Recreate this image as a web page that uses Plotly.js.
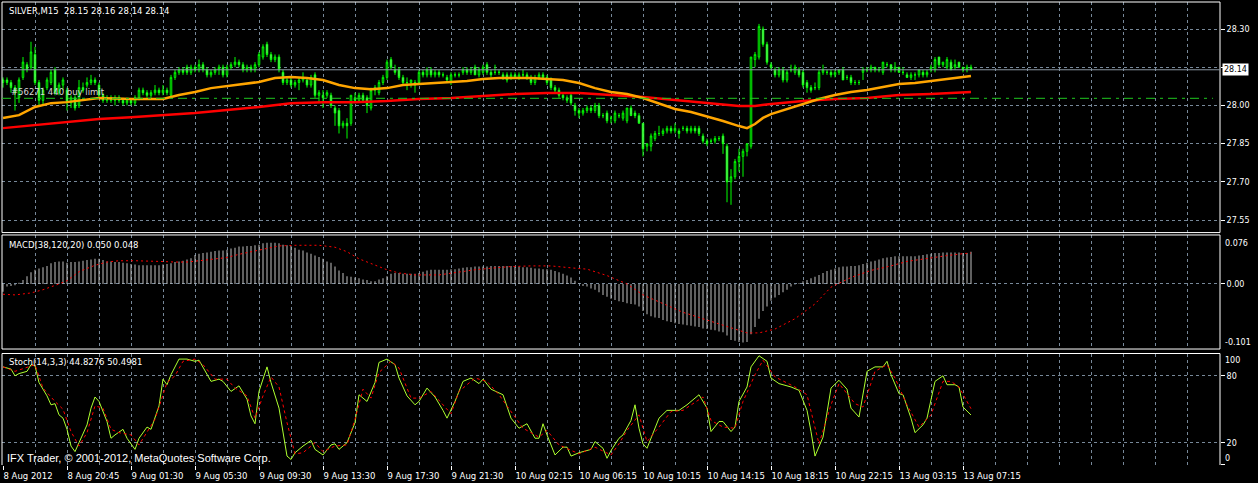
<!DOCTYPE html>
<html>
<head>
<meta charset="utf-8">
<script src="https://cdn.plot.ly/plotly-3.0.1.min.js"></script>
<style>
  html, body { margin: 0; padding: 0; background: #000; }
  #chart { width: 1258px; height: 483px; }
</style>
</head>
<body>
<div id="chart"></div>
<script>
// SILVER M15 candles, one entry per bar (bar 0 = 8 Aug 2012 16:45)
const open = [
  28.09,28.10,28.09,28.07,28.03,28.11,28.16,28.15,28.20,28.09,
  28.02,28.07,28.09,28.14,28.05,28.08,28.06,28.01,28.03,28.00,
  28.07,28.08,28.09,28.10,28.08,28.04,28.02,28.03,28.02,28.03,
  28.02,28.01,28.02,28.01,28.03,28.06,28.05,28.04,28.05,28.06,
  28.05,28.06,28.04,28.11,28.13,28.14,28.15,28.13,28.15,28.14,
  28.16,28.14,28.12,28.13,28.14,28.15,28.12,28.15,28.16,28.17,
  28.16,28.14,28.15,28.14,28.16,28.19,28.24,28.20,28.18,28.19,
  28.13,28.09,28.10,28.08,28.09,28.10,28.10,28.08,28.12,28.04,
  28.04,28.04,28.04,27.99,27.98,27.92,27.93,27.93,28.03,28.02,
  28.04,28.03,27.99,28.06,28.05,28.09,28.11,28.18,28.14,28.14,
  28.11,28.09,28.09,28.09,28.09,28.13,28.12,28.14,28.12,28.13,
  28.12,28.11,28.09,28.12,28.12,28.13,28.14,28.13,28.15,28.12,
  28.13,28.16,28.13,28.13,28.13,28.12,28.12,28.11,28.12,28.11,
  28.12,28.12,28.11,28.09,28.11,28.12,28.11,28.10,28.07,28.06,
  28.04,28.03,28.04,28.00,27.98,27.97,27.98,27.99,27.98,28.00,
  27.96,27.97,27.95,27.94,27.96,27.95,27.94,27.99,27.97,27.96,
  27.93,27.84,27.84,27.87,27.89,27.89,27.90,27.91,27.90,27.90,
  27.91,27.91,27.90,27.91,27.91,27.88,27.86,27.86,27.86,27.87,
  27.88,27.84,27.70,27.72,27.78,27.80,27.82,27.84,28.18,28.19,
  28.30,28.24,28.16,28.14,28.12,28.14,28.10,28.14,28.13,28.14,
  28.13,28.09,28.07,28.07,28.07,28.13,28.13,28.13,28.12,28.13,
  28.14,28.11,28.11,28.09,28.09,28.13,28.14,28.14,28.15,28.14,
  28.13,28.16,28.16,28.14,28.15,28.13,28.12,28.11,28.12,28.12,
  28.13,28.12,28.14,28.14,28.19,28.16,28.15,28.17,28.15,28.17,
  28.15,28.14,28.15
];
const high = [
  28.11,28.11,28.10,28.08,28.11,28.19,28.17,28.25,28.23,28.10,
  28.07,28.11,28.14,28.15,28.09,28.11,28.07,28.04,28.04,28.10,
  28.09,28.11,28.12,28.11,28.09,28.05,28.04,28.04,28.04,28.04,
  28.03,28.03,28.03,28.04,28.07,28.07,28.06,28.06,28.08,28.07,
  28.08,28.07,28.12,28.14,28.15,28.15,28.16,28.16,28.16,28.18,
  28.17,28.15,28.14,28.15,28.16,28.16,28.16,28.17,28.19,28.18,
  28.17,28.16,28.16,28.17,28.21,28.24,28.25,28.21,28.20,28.20,
  28.14,28.11,28.11,28.10,28.11,28.13,28.11,28.12,28.13,28.06,
  28.06,28.06,28.05,28.00,27.99,27.94,27.95,28.04,28.05,28.05,
  28.05,28.04,28.07,28.08,28.10,28.12,28.18,28.19,28.16,28.15,
  28.12,28.11,28.10,28.10,28.14,28.14,28.15,28.15,28.14,28.14,
  28.13,28.12,28.13,28.13,28.13,28.15,28.15,28.15,28.16,28.15,
  28.16,28.17,28.14,28.16,28.14,28.13,28.13,28.13,28.13,28.13,
  28.14,28.13,28.12,28.12,28.13,28.13,28.12,28.11,28.08,28.07,
  28.05,28.04,28.05,28.01,27.99,27.99,28.00,28.00,28.01,28.01,
  27.97,27.98,27.96,27.98,27.97,27.98,27.99,28.00,27.98,27.97,
  27.93,27.85,27.89,27.90,27.92,27.91,27.92,27.92,27.93,27.91,
  27.92,27.92,27.92,27.92,27.92,27.89,27.87,27.87,27.88,27.88,
  27.89,27.85,27.75,27.79,27.83,27.83,27.85,28.19,28.21,28.32,
  28.31,28.25,28.17,28.15,28.15,28.15,28.14,28.16,28.16,28.15,
  28.14,28.10,28.08,28.09,28.14,28.16,28.14,28.14,28.14,28.14,
  28.15,28.12,28.12,28.10,28.10,28.15,28.15,28.16,28.15,28.15,
  28.17,28.17,28.16,28.17,28.15,28.15,28.13,28.13,28.13,28.14,
  28.14,28.14,28.16,28.19,28.19,28.17,28.19,28.18,28.18,28.17,
  28.15,28.16,28.16
];
const low = [
  28.07,28.08,28.05,27.98,28.01,28.10,28.13,28.14,28.08,28.00,
  28.00,28.06,28.08,28.04,28.04,28.06,27.98,27.99,27.98,27.99,
  28.05,28.07,28.08,28.08,28.03,28.01,28.01,28.01,28.00,28.01,
  28.00,28.00,28.00,28.00,28.02,28.04,28.03,28.03,28.04,28.04,
  28.04,28.04,28.03,28.10,28.12,28.12,28.12,28.12,28.13,28.13,
  28.13,28.11,28.11,28.12,28.12,28.11,28.11,28.14,28.15,28.15,
  28.13,28.13,28.13,28.13,28.15,28.18,28.19,28.17,28.17,28.13,
  28.08,28.08,28.07,28.07,28.06,28.09,28.07,28.07,28.03,28.01,
  27.99,28.03,27.99,27.92,27.89,27.91,27.87,27.92,28.01,28.01,
  28.01,27.97,27.98,28.04,28.04,28.08,28.10,28.14,28.12,28.10,
  28.08,28.06,28.07,28.05,28.08,28.11,28.11,28.11,28.11,28.11,
  28.11,28.09,28.08,28.11,28.11,28.12,28.12,28.12,28.12,28.11,
  28.12,28.12,28.11,28.12,28.12,28.10,28.09,28.10,28.11,28.10,
  28.11,28.10,28.08,28.08,28.10,28.10,28.08,28.06,28.05,28.03,
  28.02,28.01,28.00,27.96,27.95,27.96,27.97,27.97,27.97,27.95,
  27.95,27.93,27.93,27.93,27.95,27.94,27.93,27.96,27.95,27.93,
  27.80,27.82,27.82,27.86,27.88,27.88,27.89,27.89,27.89,27.87,
  27.90,27.89,27.89,27.89,27.88,27.85,27.84,27.85,27.85,27.86,
  27.81,27.62,27.61,27.71,27.74,27.72,27.80,27.83,28.15,28.18,
  28.23,28.16,28.14,28.11,28.11,28.09,28.09,28.13,28.12,28.11,
  28.07,28.05,28.05,28.06,28.06,28.12,28.12,28.11,28.11,28.12,
  28.10,28.10,28.08,28.08,28.08,28.10,28.13,28.13,28.13,28.13,
  28.12,28.15,28.13,28.13,28.13,28.12,28.11,28.10,28.10,28.11,
  28.11,28.11,28.13,28.13,28.15,28.15,28.14,28.14,28.14,28.15,
  28.13,28.13,28.14
];
const close = [
  28.10,28.09,28.07,28.05,28.10,28.17,28.14,28.21,28.09,28.02,
  28.06,28.10,28.13,28.05,28.08,28.10,28.01,28.03,27.99,28.07,
  28.06,28.09,28.10,28.09,28.04,28.02,28.03,28.02,28.03,28.02,
  28.01,28.02,28.01,28.03,28.06,28.05,28.04,28.05,28.06,28.05,
  28.06,28.05,28.11,28.13,28.14,28.13,28.13,28.15,28.14,28.16,
  28.14,28.12,28.13,28.14,28.15,28.12,28.15,28.16,28.17,28.16,
  28.14,28.15,28.14,28.16,28.20,28.23,28.20,28.18,28.19,28.14,
  28.09,28.10,28.08,28.09,28.10,28.11,28.08,28.11,28.04,28.05,
  28.03,28.05,28.00,27.97,27.92,27.93,27.92,28.04,28.02,28.04,
  28.02,28.00,28.06,28.07,28.09,28.11,28.17,28.15,28.13,28.11,
  28.09,28.09,28.10,28.08,28.13,28.12,28.14,28.12,28.13,28.12,
  28.12,28.10,28.12,28.12,28.12,28.14,28.13,28.14,28.12,28.14,
  28.15,28.13,28.12,28.13,28.13,28.11,28.10,28.12,28.11,28.12,
  28.12,28.11,28.09,28.11,28.12,28.11,28.09,28.07,28.06,28.04,
  28.03,28.02,28.01,27.98,27.97,27.98,27.99,27.98,28.00,27.96,
  27.96,27.94,27.95,27.97,27.96,27.97,27.99,27.96,27.96,27.93,
  27.83,27.85,27.88,27.89,27.89,27.90,27.91,27.90,27.91,27.89,
  27.91,27.90,27.91,27.90,27.89,27.86,27.85,27.86,27.87,27.87,
  27.85,27.70,27.72,27.78,27.80,27.82,27.85,28.19,28.20,28.31,
  28.24,28.17,28.15,28.12,28.14,28.10,28.13,28.14,28.15,28.12,
  28.08,28.07,28.06,28.07,28.13,28.14,28.13,28.12,28.13,28.14,
  28.10,28.11,28.09,28.09,28.09,28.14,28.14,28.15,28.14,28.14,
  28.17,28.16,28.14,28.15,28.13,28.13,28.11,28.12,28.12,28.14,
  28.12,28.13,28.15,28.18,28.16,28.17,28.18,28.14,28.16,28.15,
  28.14,28.15,28.14
];

// moving averages (orange = fast, red = slow)
const fastBars = [0,4,8,12,16,20,24,32,40,44,48,52,56,60,64,68,72,76,80,84,88,92,96,100,104,108,112,116,120,124,128,132,136,140,144,148,152,156,160,164,168,172,176,180,184,186,188,190,192,196,200,204,208,212,216,220,224,228,232,236,240,242];
const fastMa = [27.951,27.962,27.994,28.009,28.013,28.021,28.029,28.025,28.025,28.041,28.053,28.068,28.076,28.084,28.092,28.108,28.112,28.108,28.100,28.080,28.068,28.064,28.068,28.080,28.084,28.088,28.092,28.096,28.104,28.108,28.108,28.108,28.104,28.100,28.088,28.068,28.053,28.045,28.029,28.006,27.986,27.974,27.958,27.939,27.919,27.911,27.927,27.951,27.966,27.986,28.006,28.025,28.041,28.053,28.061,28.072,28.084,28.088,28.096,28.104,28.112,28.116];
const slowBars = [0,8,16,24,32,40,48,56,64,72,80,88,96,104,112,120,128,136,144,152,160,168,176,184,188,192,200,208,216,224,232,242];
const slowMa = [27.911,27.923,27.935,27.947,27.954,27.962,27.970,27.982,27.994,28.009,28.013,28.013,28.017,28.025,28.029,28.037,28.045,28.049,28.049,28.041,28.033,28.021,28.009,27.998,27.998,28.006,28.017,28.025,28.029,28.041,28.045,28.053];

// MACD(38,120,20) histogram, one per bar, and its signal line
const macdHist = [
  -0.012,-0.004,-0.003,-0.002,0.002,0.006,0.012,0.018,0.022,0.024,
  0.026,0.028,0.032,0.034,0.035,0.035,0.033,0.034,0.034,0.035,
  0.036,0.037,0.038,0.039,0.039,0.037,0.035,0.035,0.034,0.034,
  0.033,0.032,0.031,0.030,0.029,0.029,0.029,0.029,0.029,0.029,
  0.030,0.031,0.032,0.034,0.035,0.036,0.038,0.040,0.045,0.047,
  0.048,0.049,0.050,0.051,0.052,0.052,0.053,0.055,0.056,0.058,
  0.058,0.059,0.059,0.060,0.061,0.063,0.064,0.064,0.064,0.063,
  0.061,0.060,0.059,0.056,0.053,0.052,0.049,0.047,0.044,0.042,
  0.039,0.035,0.033,0.027,0.021,0.017,0.012,0.011,0.010,0.009,
  0.007,0.006,0.004,0.004,0.007,0.009,0.012,0.016,0.017,0.017,
  0.016,0.016,0.016,0.016,0.017,0.019,0.021,0.022,0.022,0.022,
  0.022,0.022,0.023,0.023,0.024,0.025,0.026,0.026,0.027,0.027,
  0.027,0.027,0.028,0.028,0.028,0.028,0.028,0.028,0.027,0.027,
  0.026,0.026,0.025,0.024,0.024,0.023,0.023,0.022,0.020,0.018,
  0.016,0.013,0.010,0.005,0.001,-0.003,-0.004,-0.007,-0.009,-0.013,
  -0.017,-0.020,-0.023,-0.025,-0.027,-0.028,-0.030,-0.031,-0.032,-0.035,
  -0.042,-0.047,-0.050,-0.052,-0.053,-0.056,-0.058,-0.059,-0.061,-0.062,
  -0.063,-0.064,-0.065,-0.066,-0.067,-0.069,-0.070,-0.071,-0.072,-0.074,
  -0.075,-0.080,-0.087,-0.088,-0.090,-0.091,-0.090,-0.078,-0.067,-0.054,
  -0.042,-0.035,-0.026,-0.021,-0.017,-0.013,-0.009,-0.004,-0.001,0.001,
  0.004,0.006,0.009,0.011,0.014,0.017,0.020,0.022,0.024,0.026,
  0.027,0.027,0.028,0.028,0.029,0.031,0.033,0.035,0.036,0.038,
  0.040,0.041,0.042,0.043,0.043,0.043,0.043,0.043,0.043,0.044,
  0.045,0.046,0.047,0.048,0.048,0.049,0.049,0.049,0.049,0.049,
  0.048,0.048,0.050
];
const macdSigBars = [0,3,7,10,14,16,19,23,26,29,33,36,39,43,46,49,53,56,59,63,66,69,73,76,79,83,86,89,93,96,99,103,109,113,118,123,127,132,137,142,146,151,156,160,165,170,175,179,184,186,189,193,198,203,207,212,217,222,226,231,236,240,242];
const macdSignal = [-0.016,-0.017,-0.014,-0.009,0.000,0.005,0.019,0.029,0.034,0.036,0.036,0.036,0.035,0.034,0.034,0.036,0.039,0.041,0.046,0.051,0.055,0.059,0.060,0.060,0.060,0.057,0.050,0.039,0.029,0.022,0.017,0.014,0.014,0.018,0.022,0.025,0.027,0.028,0.028,0.025,0.023,0.013,0.000,-0.017,-0.031,-0.044,-0.054,-0.062,-0.072,-0.076,-0.076,-0.070,-0.054,-0.031,-0.005,0.010,0.021,0.028,0.035,0.040,0.044,0.047,0.048];

// Stochastic(14,3,3)
const stochBars = [0,2,3,4,6,7,8,9,11,12,13,14,15,16,17,18,19,21,22,23,24,26,27,28,30,31,33,34,36,37,39,40,41,42,44,46,48,49,52,54,55,57,59,61,62,63,64,66,67,69,71,72,73,75,77,78,80,82,83,84,86,88,89,91,93,94,96,98,99,101,103,104,106,108,110,111,113,115,117,119,120,122,125,127,129,131,133,134,135,136,138,140,141,142,144,146,147,148,150,151,152,154,155,157,158,159,160,161,162,164,166,169,171,174,176,177,179,180,182,183,184,186,187,189,191,192,194,197,199,201,202,203,205,207,209,211,212,214,216,218,220,221,222,224,225,227,228,230,231,233,235,236,238,239,240,242];
const stochMain = [88,86,80,82,84,90,89,74,62,54,55,45,42,32,17,12,20,36,51,61,57,39,24,27,32,24,14,24,34,32,53,77,72,81,95,95,93,94,75,77,75,66,71,59,44,37,66,88,74,51,8,5,11,17,22,14,9,18,19,14,20,38,63,57,74,92,95,90,78,62,54,57,69,61,49,42,57,75,78,73,77,68,63,42,33,37,24,24,37,27,9,16,16,8,11,13,14,21,15,6,13,24,27,40,54,33,19,15,24,42,49,49,54,63,51,30,39,39,30,34,57,70,88,98,93,78,73,70,67,49,30,8,25,69,76,68,51,43,84,88,88,93,81,64,63,42,29,36,42,75,80,72,72,70,52,44.83];
const stochSigBars = [0,3,8,10,13,15,17,19,21,23,25,27,29,32,34,36,38,41,43,45,48,50,53,56,58,61,63,65,67,69,71,73,75,78,80,83,86,88,90,92,94,97,99,102,104,107,110,112,114,118,121,124,128,130,134,136,139,142,144,148,152,154,156,159,161,164,167,170,175,177,180,183,185,188,190,193,198,201,204,207,209,213,215,218,221,223,226,229,232,235,237,239,242];
const stochSignal = [88,84,90,69,57,50,30,17,29,53,51,32,29,27,18,29,41,74,80,93,95,90,77,77,69,62,42,62,79,70,38,10,11,20,12,17,18,41,68,60,83,93,87,60,60,66,54,46,66,78,75,63,43,33,25,31,18,13,10,16,9,19,31,45,21,34,48,49,61,40,34,33,57,81,94,79,70,63,19,54,73,55,52,84,90,78,54,34,45,75,75,70,50.50];

const timeLabels = ['8 Aug 2012','8 Aug 20:45','9 Aug 01:30','9 Aug 05:30','9 Aug 09:30','9 Aug 13:30','9 Aug 17:30','9 Aug 21:30','10 Aug 02:15','10 Aug 06:15','10 Aug 10:15','10 Aug 14:15','10 Aug 18:15','10 Aug 22:15','13 Aug 03:15','13 Aug 07:15'];
const priceTicks = [28.30, 28.15, 28.00, 27.85, 27.70, 27.55];
const orderPrice = 28.028;
const lastPrice = 28.14;

const bars = close.map((_, i) => i);
const labelBars = timeLabels.map((_, k) => k * 16);

// pixel -> paper helpers (plot area is x 2..1220, y 2..465)
const px = x => (x - 2) / 1218;
const py = y => (465 - y) / 463;

const GRID = '#778899';
const font = {family: 'DejaVu Sans', size: 8.5, color: '#ffffff'};

const xCommon = {
    range: [-0.25, 304.25],
    tickmode: 'array',
    tickvals: labelBars,
    ticktext: timeLabels,
    showgrid: true,
    gridcolor: GRID,
    griddash: '3px,3px',
    gridwidth: 1,
    minor: {tickmode: 'linear', tick0: 0, dtick: 8, showgrid: true, gridcolor: GRID, griddash: '3px,3px', gridwidth: 1, ticks: ''},
    zeroline: false,
    showline: false,
    fixedrange: true
};
const yCommon = {
    side: 'right',
    ticks: 'outside',
    ticklen: 4,
    tickcolor: '#ffffff',
    tickfont: {family: 'DejaVu Sans', size: 8, color: '#ffffff'},
    showgrid: true,
    gridcolor: GRID,
    griddash: '3px,3px',
    gridwidth: 1,
    zeroline: false,
    showline: false,
    fixedrange: true
};

const data = [
    {
        type: 'candlestick', x: bars, open: open, high: high, low: low, close: close,
        xaxis: 'x', yaxis: 'y', whiskerwidth: 0, hoverinfo: 'skip',
        increasing: {line: {color: '#00ff00', width: 1}, fillcolor: '#000000'},
        decreasing: {line: {color: '#00ff00', width: 1}, fillcolor: '#ffffff'}
    },
    {type: 'scatter', mode: 'lines', x: slowBars, y: slowMa, xaxis: 'x', yaxis: 'y',
     line: {color: '#ff0000', width: 2.5}, hoverinfo: 'skip'},
    {type: 'scatter', mode: 'lines', x: fastBars, y: fastMa, xaxis: 'x', yaxis: 'y',
     line: {color: '#ffa500', width: 2.5}, hoverinfo: 'skip'},
    {type: 'bar', x: bars, y: macdHist, xaxis: 'x2', yaxis: 'y2', width: 0.25,
     marker: {color: '#c0c0c0', line: {width: 0}}, hoverinfo: 'skip'},
    {type: 'scatter', mode: 'lines', x: macdSigBars, y: macdSignal, xaxis: 'x2', yaxis: 'y2',
     line: {color: '#ff0000', width: 1, dash: '2px,3px'}, hoverinfo: 'skip'},
    {type: 'scatter', mode: 'lines', x: stochBars, y: stochMain, xaxis: 'x3', yaxis: 'y3',
     line: {color: '#adff2f', width: 1}, hoverinfo: 'skip'},
    {type: 'scatter', mode: 'lines', x: stochSigBars, y: stochSignal, xaxis: 'x3', yaxis: 'y3',
     line: {color: '#ff0000', width: 1, dash: '3px,3px'}, hoverinfo: 'skip'}
];

const border = {color: '#ffffff', width: 1};

const layout = {
    width: 1258,
    height: 483,
    paper_bgcolor: '#000000',
    plot_bgcolor: '#000000',
    showlegend: false,
    font: font,
    margin: {l: 2, r: 38, t: 2, b: 18, pad: 0},
    boxgap: 0.45,
    xaxis: Object.assign({}, xCommon, {anchor: 'y', showticklabels: false, ticks: '', rangeslider: {visible: false}}),
    xaxis2: Object.assign({}, xCommon, {anchor: 'y2', showticklabels: false, ticks: ''}),
    xaxis3: Object.assign({}, xCommon, {
        anchor: 'y3', ticks: 'outside', ticklen: 4, tickcolor: '#ffffff',
        ticklabelposition: 'outside right', tickangle: 0, ticklabelstandoff: 3,
        tickfont: {family: 'DejaVu Sans', size: 8.5, color: '#ffffff'}
    }),
    yaxis: Object.assign({}, yCommon, {
        anchor: 'x', domain: [0.502, 1], range: [27.501, 28.406],
        // 28.15 sits under the current price box, so its text is left out
        tickvals: priceTicks, ticktext: priceTicks.map(v => Math.abs(v - 28.15) < 1e-9 ? '' : v.toFixed(2))
    }),
    yaxis2: Object.assign({}, yCommon, {
        anchor: 'x2', domain: [0.2505, 0.4968], range: [-0.101, 0.076],
        tickvals: [0], ticktext: ['0.00']
    }),
    yaxis3: Object.assign({}, yCommon, {
        anchor: 'x3', domain: [0, 0.2408], range: [0, 100],
        tickvals: [0, 20, 80], ticktext: ['', '20', '80']
    }),
    shapes: [
        {type: 'rect', xref: 'paper', yref: 'y domain', x0: 0, x1: 1, y0: 0, y1: 1, line: border},
        {type: 'rect', xref: 'paper', yref: 'y2 domain', x0: 0, x1: 1, y0: 0, y1: 1, line: border},
        {type: 'line', xref: 'paper', yref: 'y3 domain', x0: 0, x1: 0, y0: 0, y1: 1, line: border},
        {type: 'line', xref: 'paper', yref: 'y3 domain', x0: 1, x1: 1, y0: 0, y1: 1, line: border},
        {type: 'line', xref: 'paper', yref: 'y3 domain', x0: 0, x1: 1, y0: 1, y1: 1, line: border},
        // bid line
        {type: 'line', xref: 'paper', yref: 'y', x0: 0, x1: 1, y0: lastPrice, y1: lastPrice,
         line: {color: '#8a96a3', width: 1}},
        // pending order line
        {type: 'line', xref: 'x', yref: 'y', x0: -0.25, x1: 302.5, y0: orderPrice, y1: orderPrice,
         line: {color: '#1ec81e', width: 1, dash: '9px,5px,3px,5px'}}
    ],
    annotations: [
        {xref: 'paper', yref: 'paper', x: px(7), y: py(11), xanchor: 'left', yanchor: 'middle',
         text: 'SILVER,M15\u00a0\u00a028.15 28.16 28.14 28.14', showarrow: false, font: font},
        {xref: 'paper', yref: 'paper', x: px(7), y: py(245), xanchor: 'left', yanchor: 'middle',
         text: 'MACD(38,120,20) 0.050 0.048', showarrow: false, font: font},
        {xref: 'paper', yref: 'paper', x: px(7), y: py(362), xanchor: 'left', yanchor: 'middle',
         text: 'Stoch(14,3,3) 44.8276 50.4981', showarrow: false, font: font},
        {xref: 'paper', yref: 'paper', x: px(5), y: py(458), xanchor: 'left', yanchor: 'middle',
         text: 'IFX Trader, \u00a9 2001-2012, MetaQuotes Software Corp.', showarrow: false,
         font: {family: 'Liberation Sans', size: 11, color: '#ffffff'}},
        {xref: 'paper', yref: 'paper', x: px(9), y: py(92), xanchor: 'left', yanchor: 'middle',
         text: '#56271 440 buy limit', showarrow: false, font: {family: 'DejaVu Sans', size: 8.5, color: '#d8d8d8'}},
        // current price box
        {xref: 'paper', yref: 'y', x: 1, y: lastPrice, xanchor: 'left', yanchor: 'middle', xshift: 2,
         text: lastPrice.toFixed(2), showarrow: false, bgcolor: '#ffffff', borderpad: 1,
         font: {family: 'DejaVu Sans', size: 8, color: '#000000'}},
        // edge labels of the sub windows
        {xref: 'paper', yref: 'y2 domain', x: 1, y: 1, xanchor: 'left', yanchor: 'top', xshift: 3, yshift: -2,
         text: '0.076', showarrow: false, font: {family: 'DejaVu Sans', size: 8, color: '#ffffff'}},
        {xref: 'paper', yref: 'y2 domain', x: 1, y: 0, xanchor: 'left', yanchor: 'bottom', xshift: 3,
         text: '-0.101', showarrow: false, font: {family: 'DejaVu Sans', size: 8, color: '#ffffff'}},
        {xref: 'paper', yref: 'y3 domain', x: 1, y: 1, xanchor: 'left', yanchor: 'top', xshift: 3,
         text: '100', showarrow: false, font: {family: 'DejaVu Sans', size: 8, color: '#ffffff'}},
        {xref: 'paper', yref: 'y3 domain', x: 1, y: 0, xanchor: 'left', yanchor: 'bottom', xshift: 3,
         text: '0', showarrow: false, font: {family: 'DejaVu Sans', size: 8, color: '#ffffff'}}
    ]
};

Plotly.newPlot('chart', data, layout, {staticPlot: true, displayModeBar: false});
</script>
</body>
</html>
